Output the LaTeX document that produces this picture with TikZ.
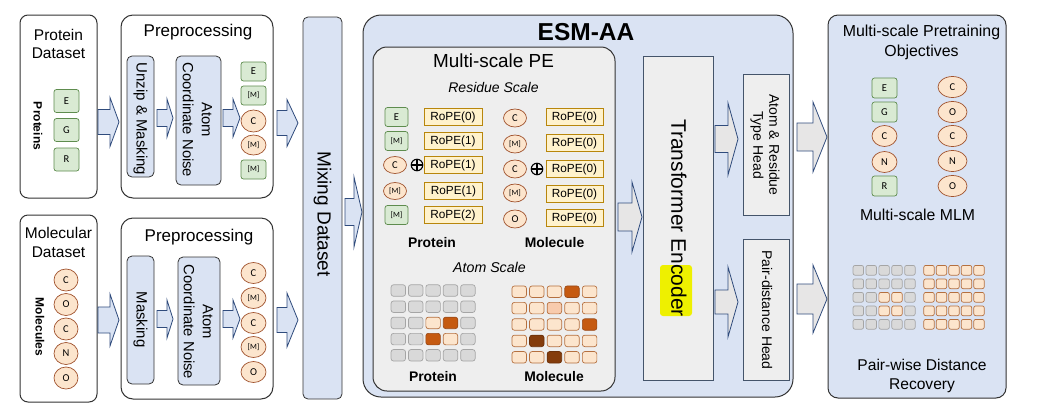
\documentclass[tikz,border=0pt]{standalone}
\usepackage{fontspec}
\setmainfont{Liberation Sans}
\newfontfamily\tokfont{Carlito}
\usetikzlibrary{shapes.geometric}
\definecolor{bluefill}{HTML}{DAE3F3}
\definecolor{navy}{HTML}{2F4B7C}
\definecolor{boxline}{HTML}{333333}
\definecolor{pefill}{HTML}{EEEEEE}
\definecolor{gfill}{HTML}{D9EAD3}
\definecolor{gline}{HTML}{5E8C4E}
\definecolor{ofill}{HTML}{FCE5CD}
\definecolor{oline}{HTML}{A0522D}
\definecolor{yfill}{HTML}{FFF2CC}
\definecolor{yline}{HTML}{B8860B}
\definecolor{arrgray}{HTML}{E7E6E6}
\definecolor{headline}{HTML}{44546A}
\definecolor{hl}{HTML}{EEF000}
% grid cell colours (fill / border)
\definecolor{G}{HTML}{D9D9D9}\definecolor{GB}{HTML}{A5A5A5}
\definecolor{L}{HTML}{FCE5CD}\definecolor{LB}{HTML}{B5703F}
\definecolor{D}{HTML}{C55A11}\definecolor{DB}{HTML}{9A4A18}
\definecolor{B}{HTML}{843C0C}\definecolor{BB}{HTML}{6B300A}
\definecolor{M}{HTML}{F8CBAD}\definecolor{MB}{HTML}{B5703F}
\newcommand{\fsz}[2]{\fontsize{#1}{#2}\selectfont}
% block arrow: style, x0, xb, x1, yc, head half, shaft half
\newcommand{\blockarr}[7]{%
  \draw[#1] (#2,#5-#7) -- (#3,#5-#7) -- (#3,#5-#6) -- (#4,#5) -- (#3,#5+#6) -- (#3,#5+#7) -- (#2,#5+#7) -- cycle;}
% grid: name, x0, y0, dx, dy, cell style, codes
\newcommand{\cellgrid}[7]{%
  \foreach \s [count=\i from 0] in {#7} {%
    \pgfmathtruncatemacro{\rr}{floor(\i/5)}%
    \pgfmathtruncatemacro{\cc}{mod(\i,5)}%
    \node[#6, fill=\s, draw=\s B] (#1-\rr-\cc) at ({#2+\cc*#4},{#3+\rr*#5}) {};
  }}
\begin{document}
\begin{tikzpicture}[x=1pt,y=-1pt,
  outerbox/.style={draw=boxline, line width=1pt, fill=white, inner sep=0pt},
  bluebox/.style={draw=boxline, line width=0.8pt, fill=bluefill, rounded corners=5pt, inner sep=0pt},
  graybox/.style={draw=headline, line width=0.8pt, fill=pefill, inner sep=0pt},
  barrow/.style={fill=bluefill, draw=navy, line width=0.8pt, line join=miter},
  garrow/.style={fill=arrgray, draw=navy, line width=0.8pt, line join=miter},
  ptok/.style={draw=gline, fill=gfill, line width=0.7pt, rounded corners=2.5pt, inner sep=0pt, font=\tokfont\fsz{10.5}{11}},
  mtok/.style={ellipse, draw=oline, fill=ofill, line width=0.7pt, inner sep=0pt, font=\tokfont\fsz{10.5}{11}},
  mk/.style={font=\tokfont\fsz{8}{9}},
  rope/.style={draw=yline, fill=yfill, line width=0.7pt, inner sep=0pt, minimum width=58, minimum height=17, font=\fsz{11.8}{12}},
  bigcell/.style={rounded corners=2.5pt, line width=0.7pt, minimum width=14.5, minimum height=11.5, inner sep=0pt},
  smallcell/.style={rounded corners=2pt, line width=0.7pt, minimum width=10.5, minimum height=9.8, inner sep=0pt},
  lbl/.style={inner sep=0pt},
  oplus/.style={circle, draw=black, line width=1.1pt, minimum size=11.5, inner sep=0pt,
    path picture={\draw[line width=1.1pt] (path picture bounding box.north) -- (path picture bounding box.south)
      (path picture bounding box.west) -- (path picture bounding box.east);}}
]
\useasboundingbox (0,0) rectangle (1037,408);

% ---------------- left: datasets and preprocessing ----------------
\node[outerbox, rounded corners=8pt, minimum width=77, minimum height=183] (pds) at (58.5,106.5) {};
\node[outerbox, rounded corners=12pt, minimum width=152, minimum height=183] (pre1) at (197,106.5) {};
\node[bluebox, minimum width=27, minimum height=121] (unzip) at (140.5,116.5) {};
\node[bluebox, minimum width=45, minimum height=129] (noise1) at (198.5,120.5) {};

\node[outerbox, rounded corners=8pt, minimum width=77, minimum height=187] (mds) at (58.5,308.5) {};
\node[outerbox, rounded corners=12pt, minimum width=152, minimum height=181] (pre2) at (197,308.5) {};
\node[bluebox, minimum width=27, minimum height=128] (mask) at (140.5,320) {};
\node[bluebox, minimum width=42, minimum height=128] (noise2) at (199,321) {};

\node[lbl, font=\fsz{15.5}{18}, align=center] (pdst) at (58.5,44) {Protein\\Dataset};
\node[lbl, rotate=-90, font=\bfseries\fsz{12}{12}] (prots) at (38,126) {Proteins};
\node[ptok, minimum width=25, minimum height=23] (d1) at (66.5,101) {E};
\node[ptok, minimum width=25, minimum height=23] (d2) at (66.5,130) {G};
\node[ptok, minimum width=25, minimum height=23] (d3) at (66.5,159.5) {R};

\node[lbl, font=\fsz{17}{20}] (pre1t) at (198,32) {Preprocessing};
\node[lbl, rotate=-90, font=\fsz{15}{18}] (unzipt) at (140.5,119) {Unzip \& Masking};
\node[lbl, rotate=-90, font=\fsz{14.8}{19}, align=center] (noise1t) at (197.5,120) {Atom\\Coordinate Noise};

\node[ptok, minimum width=25, minimum height=19] (a1) at (253.5,71.5) {E};
\node[ptok, mk, minimum width=25, minimum height=19] (a2) at (253.5,95.5) {[M]};
\node[mtok, minimum width=25, minimum height=22] (a3) at (253.5,121) {C};
\node[mtok, mk, minimum width=25, minimum height=20] (a4) at (253.5,145) {[M]};
\node[ptok, mk, minimum width=25, minimum height=19] (a5) at (253.5,169.5) {[M]};

\node[lbl, font=\fsz{15.5}{19}, align=center] (mdst) at (58.5,242.5) {Molecular\\Dataset};
\node[lbl, rotate=-90, font=\bfseries\fsz{12}{12}] (mols) at (40,327) {Molecules};
\foreach \t [count=\k] in {C,O,C,N,O} {
  \pgfmathsetmacro{\yy}{280+(\k-1)*24.5}
  \node[mtok, minimum width=24, minimum height=22] (e\k) at (66,\yy) {\t};
}

\node[lbl, font=\fsz{17}{20}] (pre2t) at (199,237) {Preprocessing};
\node[lbl, rotate=-90, font=\fsz{15}{18}] (maskt) at (140.5,319.5) {Masking};
\node[lbl, rotate=-90, font=\fsz{14.8}{19}, align=center] (noise2t) at (198.5,322) {Atom\\Coordinate Noise};

\node[mtok, minimum width=25, minimum height=21] (b1) at (253.5,273) {C};
\node[mtok, mk, minimum width=25, minimum height=21] (b2) at (253.5,298) {[M]};
\node[mtok, minimum width=25, minimum height=21] (b3) at (253.5,323) {C};
\node[mtok, mk, minimum width=25, minimum height=21] (b4) at (253.5,347) {[M]};
\node[mtok, minimum width=25, minimum height=21] (b5) at (253.5,372) {O};

% arrows on the left
\blockarr{barrow}{98}{110}{119}{122}{24.5}{12.5}
\blockarr{barrow}{157}{167}{173}{118}{19}{8.5}
\blockarr{barrow}{223}{233}{240}{118}{19}{8.5}
\blockarr{barrow}{277}{287}{298}{123}{23.5}{12.5}
\blockarr{barrow}{98}{110}{119}{320}{26}{13}
\blockarr{barrow}{157}{167}{173}{319}{19}{8.5}
\blockarr{barrow}{223}{233}{240}{319}{19}{8.5}
\blockarr{barrow}{277}{287}{298}{320}{27}{12.5}

% ---------------- mixing dataset ----------------
\node[bluebox, minimum width=39, minimum height=382] (mix) at (322.5,208) {};
\node[lbl, rotate=-90, font=\fsz{19}{20}] (mixt) at (322.5,214) {Mixing Dataset};
\blockarr{barrow}{345}{354}{362}{212}{35}{13.5}

% ---------------- ESM-AA ----------------
\node[draw=boxline, line width=1pt, fill=bluefill, rounded corners=18pt, minimum width=430, minimum height=382, inner sep=0pt] (esm) at (578,206) {};
\node[lbl, font=\bfseries\fsz{24.5}{26}] (esmt) at (586,32) {ESM-AA};

\node[draw=boxline, line width=1pt, fill=pefill, rounded corners=14pt, minimum width=242, minimum height=344, inner sep=0pt] (pe) at (494,219) {};
\node[lbl, font=\fsz{18.9}{20}] (pet) at (493.5,61) {Multi-scale PE};
\node[lbl, font=\itshape\fsz{14}{15}] (rs) at (493.5,87) {Residue Scale};

% protein residue scale
\node[ptok, minimum width=23, minimum height=19] (r1) at (396.5,117) {E};
\node[ptok, mk, minimum width=23, minimum height=19] (r2) at (396.5,141) {[M]};
\node[mtok, minimum width=23, minimum height=17] (r3) at (395,165) {C};
\node[mtok, mk, minimum width=23, minimum height=17] (r4) at (395,191) {[M]};
\node[ptok, mk, minimum width=23, minimum height=19] (r5) at (396.5,215) {[M]};
\node[oplus] (op1) at (417,165) {};
\node[rope] (q1) at (453,117) {RoPE(0)};
\node[rope] (q2) at (453,141) {RoPE(1)};
\node[rope] (q3) at (453,165) {RoPE(1)};
\node[rope] (q4) at (453.5,191) {RoPE(1)};
\node[rope] (q5) at (453,215) {RoPE(2)};

% molecule residue scale
\node[mtok, minimum width=23, minimum height=18] (s1) at (515,118) {C};
\node[mtok, mk, minimum width=23, minimum height=18] (s2) at (515,144) {[M]};
\node[mtok, minimum width=23, minimum height=18] (s3) at (515,169) {C};
\node[mtok, mk, minimum width=23, minimum height=18] (s4) at (515,193) {[M]};
\node[mtok, minimum width=23, minimum height=18] (s5) at (515,219) {O};
\node[oplus] (op2) at (537,169) {};
\node[rope, minimum width=57] (u1) at (574.5,117) {RoPE(0)};
\node[rope, minimum width=57] (u2) at (574.5,143) {RoPE(0)};
\node[rope, minimum width=57] (u3) at (574.5,169) {RoPE(0)};
\node[rope, minimum width=57] (u4) at (574.5,194) {RoPE(0)};
\node[rope, minimum width=57] (u5) at (574.5,218) {RoPE(0)};

\node[lbl, font=\bfseries\fsz{13.9}{14}] (plab1) at (432,243) {Protein};
\node[lbl, font=\bfseries\fsz{13.9}{14}] (mlab1) at (554.5,243) {Molecule};
\node[lbl, font=\itshape\fsz{14.2}{15}] (as) at (489.5,267) {Atom Scale};

% atom scale grids
\cellgrid{pg}{398.3}{290.5}{17.4}{16.2}{bigcell}{G,G,G,G,G, G,G,G,G,G, G,G,L,D,G, G,G,D,L,G, G,G,G,G,G}
\cellgrid{mg}{519.2}{291.7}{17.6}{16.4}{bigcell}{L,L,L,D,L, L,L,M,L,L, L,L,L,L,D, L,B,L,L,L, L,L,B,L,L}
\node[lbl, font=\bfseries\fsz{13.9}{14}] (plab2) at (433,377) {Protein};
\node[lbl, font=\bfseries\fsz{13.9}{14}] (mlab2) at (554,377) {Molecule};

\blockarr{garrow}{618}{632}{642}{217}{35}{14}

% transformer encoder
\node[graybox, minimum width=70, minimum height=324] (enc) at (678,218) {};
\fill[hl, rounded corners=3pt] (660,265) rectangle (692,316);
\node[lbl, rotate=-90, font=\fsz{21}{22}] (enct) at (679,218) {Transformer Encoder};

\blockarr{garrow}{715}{728}{738}{139}{36}{13.5}
\blockarr{garrow}{715}{728}{738}{302}{35}{12}

\node[graybox, minimum width=46, minimum height=141] (h1) at (766,144.5) {};
\node[lbl, rotate=-90, font=\fsz{14}{16}, align=center] (h1t) at (765,145) {Atom \& Residue\\Type Head};
\node[graybox, minimum width=46, minimum height=141] (h2) at (766,309.5) {};
\node[lbl, rotate=-90, font=\fsz{14}{16}] (h2t) at (767,310) {Pair-distance Head};

\blockarr{garrow}{797}{813}{827}{137}{35}{14}
\blockarr{garrow}{797}{813}{827}{299}{34}{15}

% ---------------- objectives ----------------
\node[draw=boxline, line width=1pt, fill=bluefill, rounded corners=10pt, minimum width=178, minimum height=383, inner sep=0pt] (obj) at (917,206.5) {};
\node[lbl, font=\fsz{15.9}{20}, align=center] (objt) at (921.5,42) {Multi-scale Pretraining\\Objectives};

\node[ptok, minimum width=25, minimum height=20] (o1) at (884.5,88) {E};
\node[ptok, minimum width=25, minimum height=20] (o2) at (884.5,112) {G};
\node[mtok, minimum width=25, minimum height=21] (o3) at (884.5,136) {C};
\node[mtok, minimum width=25, minimum height=21] (o4) at (884.5,162) {N};
\node[ptok, minimum width=25, minimum height=20] (o5) at (884.5,186) {R};
\foreach \t/\yy [count=\k] in {C/87,O/112,C/136,N/161,O/186} {
  \node[mtok, minimum width=29, minimum height=21] (w\k) at (952.5,\yy) {\t};
}
\node[lbl, font=\fsz{15.8}{16}] (mlmt) at (917.5,215) {Multi-scale MLM};

\cellgrid{og}{858.3}{270.3}{12.9}{13.5}{smallcell}{G,G,G,G,G, G,G,G,G,G, G,G,L,L,G, G,G,L,L,G, G,G,G,G,G}
\cellgrid{ng}{929}{270.3}{12.5}{13.5}{smallcell}{L,L,L,L,L, L,L,L,L,L, L,L,L,L,L, L,L,L,L,L, L,L,L,L,L}

\node[lbl, font=\fsz{15.6}{19}, align=center] (pwt) at (922,375.5) {Pair-wise Distance\\Recovery};
\end{tikzpicture}
\end{document}
